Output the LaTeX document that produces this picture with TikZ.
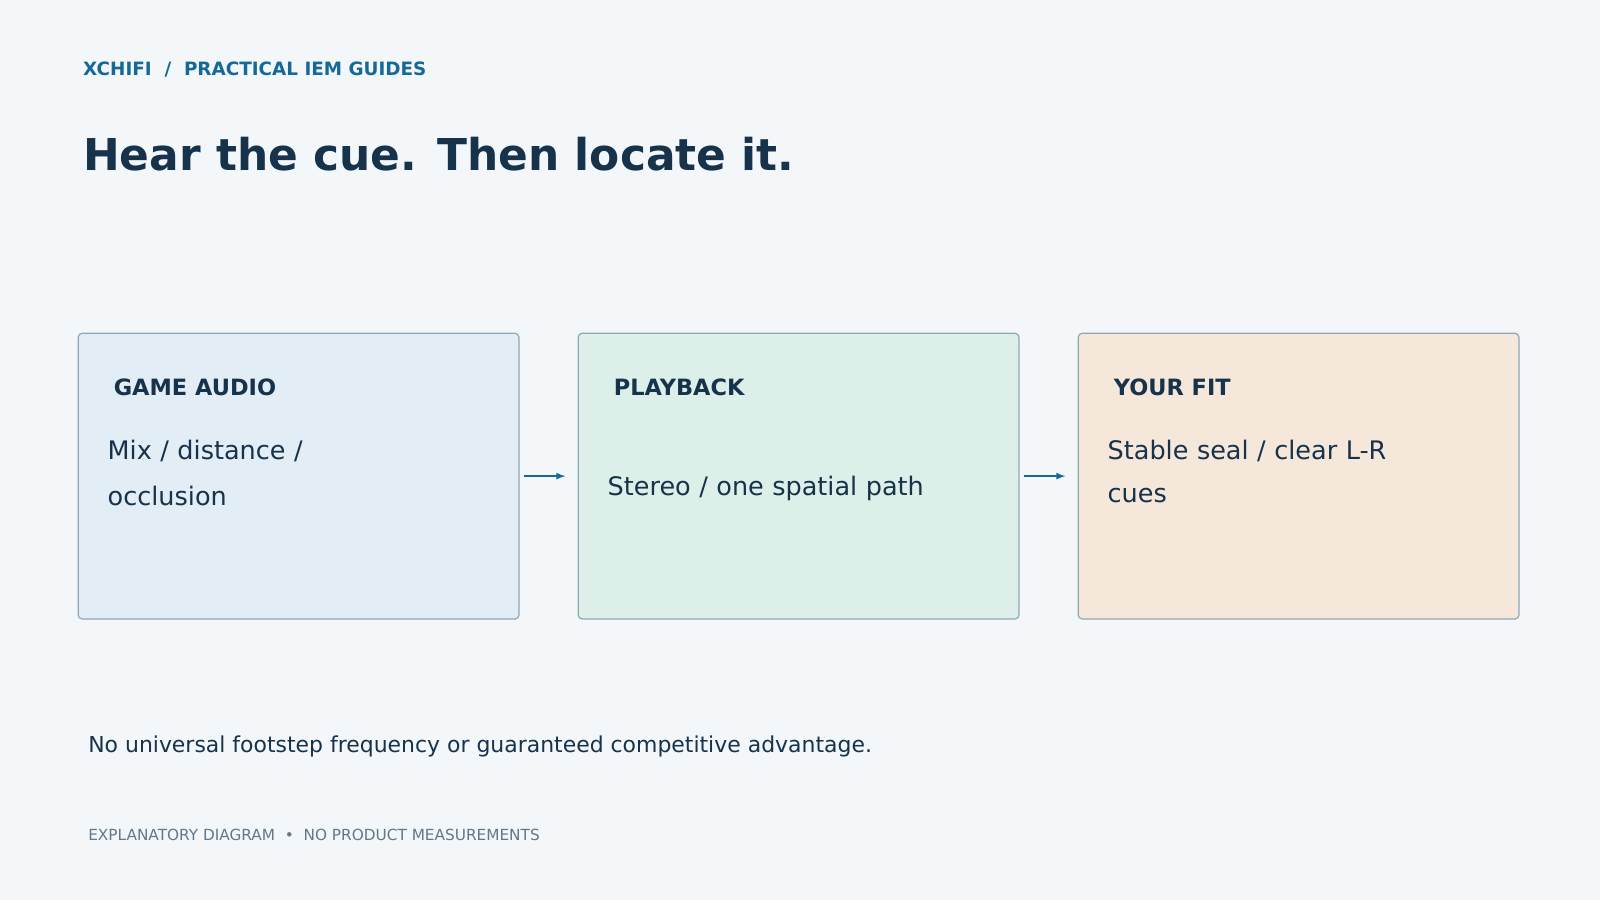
\documentclass[tikz,border=0pt]{standalone}
\usepackage{fontspec}
\setmainfont{DejaVu Sans}
\begin{document}
\begin{tikzpicture}[x=1pt,y=-1pt,
  box/.style={draw=black!10!gray!60!cyan!30!gray, line width=1.2pt, rounded corners=4pt, anchor=north west, minimum width=432, minimum height=280},
  ttl/.style={anchor=base west, text=navy, font=\fontsize{22}{26}\selectfont\bfseries},
  bod/.style={anchor=north west, text=navy, font=\fontsize{25}{45}\selectfont, align=left, text width=330},
  arr/.style={-latex, line width=2pt, draw=accent}]
\definecolor{bg}{HTML}{F3F7FA}
\definecolor{navy}{HTML}{17324B}
\definecolor{accent}{HTML}{15699A}
\definecolor{b1}{HTML}{E2EDF6}
\definecolor{b2}{HTML}{DCEFE8}
\definecolor{b3}{HTML}{F6E7DB}
\definecolor{edge}{HTML}{90A8B6}
\definecolor{grey}{HTML}{627888}
\fill[bg] (0,0) rectangle (1568,882);
\useasboundingbox (0,0) rectangle (1568,882);
\node[anchor=base west, text=accent, font=\fontsize{18}{20}\selectfont\bfseries] (hdr) at (78,74) {XCHIFI \ / \ PRACTICAL IEM GUIDES};
\node[anchor=base west, text=navy, font=\fontsize{43}{48}\selectfont\bfseries] (title) at (78,167) {Hear the cue. Then locate it.};
\node[box, draw=edge, fill=b1] (A) at (76,326) {};
\node[box, draw=edge, fill=b2] (B) at (566,326) {};
\node[box, draw=edge, fill=b3] (C) at (1056,326) {};
\node[ttl] (At) at (108,388) {GAME AUDIO};
\node[ttl] (Bt) at (598,388) {PLAYBACK};
\node[ttl] (Ct) at (1088,388) {YOUR FIT};
\node[bod] (Ab) at (102,428) {Mix / distance /\\occlusion};
\node[bod, anchor=base west] (Bb) at (592,486) {Stereo / one spatial path};
\node[bod, font=\fontsize{25}{42}\selectfont] (Cb) at (1082,428) {Stable seal / clear L-R\\cues};
\draw[arr] (A.east)++(4,0) -- ([xshift=-12]B.west);
\draw[arr] (B.east)++(4,0) -- ([xshift=-12]C.west);
\node[anchor=base west, text=navy, font=\fontsize{21.5}{24}\selectfont] (note) at (83,737) {No universal footstep frequency or guaranteed competitive advantage.};
\node[anchor=base west, text=grey, font=\fontsize{15}{18}\selectfont] (foot) at (83,824) {EXPLANATORY DIAGRAM \ • \ NO PRODUCT MEASUREMENTS};
\end{tikzpicture}
\end{document}
